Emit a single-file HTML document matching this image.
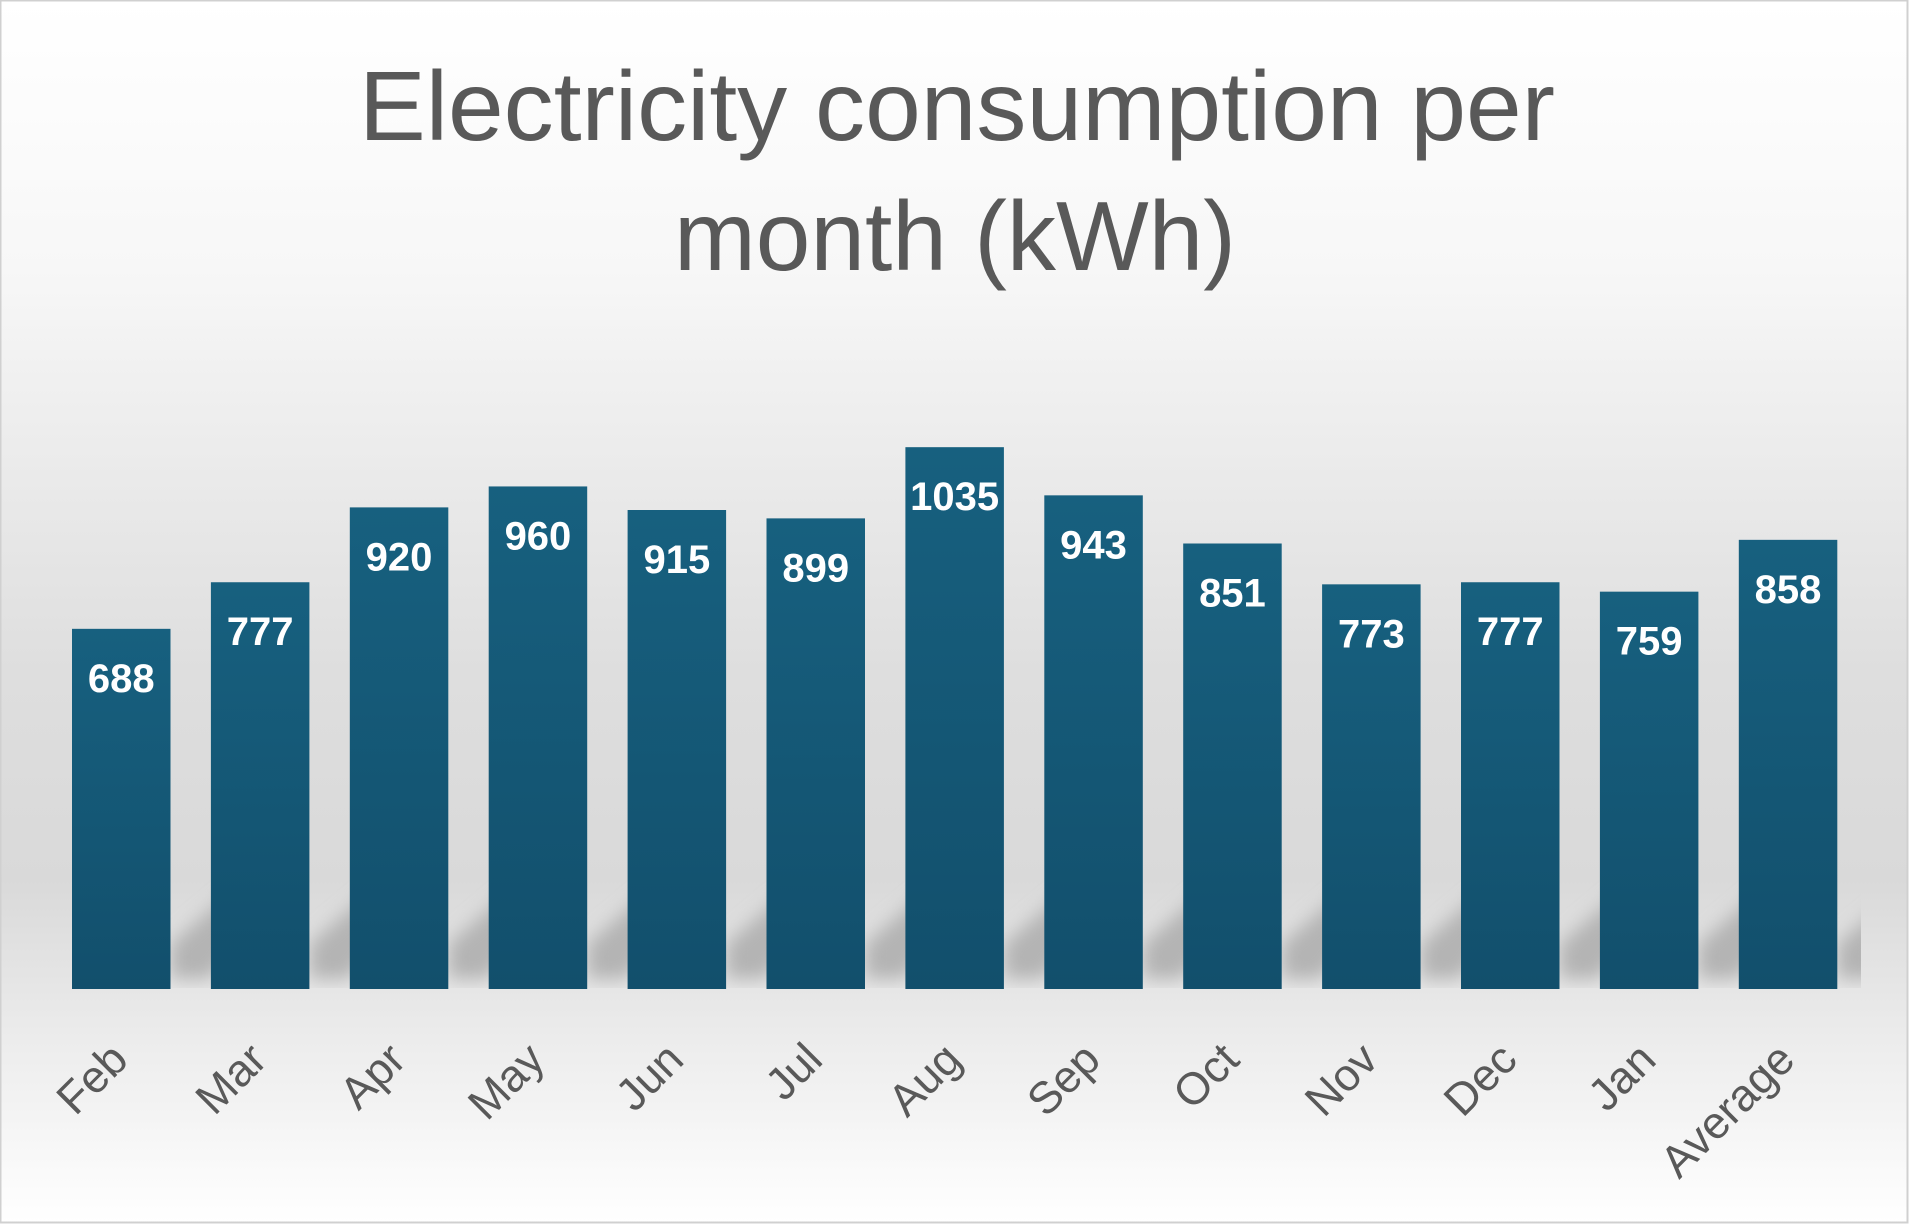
<!DOCTYPE html>
<html><head><meta charset="utf-8"><style>
html,body{margin:0;padding:0;background:#fff}
svg{display:block}
</style></head><body>
<svg id="chart" width="1910" height="1225" viewBox="0 0 1910 1225" xmlns="http://www.w3.org/2000/svg">
<defs>
<linearGradient id="bg" x1="0" y1="0" x2="0" y2="1">
<stop offset="0" stop-color="#ffffff"/>
<stop offset="0.22" stop-color="#f7f7f7"/>
<stop offset="0.55" stop-color="#dedede"/>
<stop offset="0.72" stop-color="#d9d9d9"/>
<stop offset="0.85" stop-color="#ececec"/>
<stop offset="1" stop-color="#ffffff"/>
</linearGradient>
<linearGradient id="barg" x1="0" y1="0" x2="0" y2="1">
<stop offset="0" stop-color="#17607f"/>
<stop offset="1" stop-color="#124f6c"/>
</linearGradient>
<filter id="blur"><feGaussianBlur stdDeviation="9"/></filter>
<clipPath id="plotclip"><rect x="10" y="300" width="1851" height="689"/></clipPath>
</defs>
<rect x="0.5" y="0.5" width="1907" height="1222" fill="url(#bg)" stroke="#d0d0d0" stroke-width="2"/>
<text x="957" y="140" text-anchor="middle" font-family="Liberation Sans, sans-serif" font-size="98" fill="#595959" textLength="1196" lengthAdjust="spacingAndGlyphs">Electricity consumption per</text>
<text x="955" y="270" text-anchor="middle" font-family="Liberation Sans, sans-serif" font-size="98" fill="#595959" textLength="562" lengthAdjust="spacingAndGlyphs">month (kWh)</text>
<g id="shadows" clip-path="url(#plotclip)"></g>
<g id="bars"></g>
<g id="labels"></g>
<g id="cats"></g>
</svg>
<script>
const categories = ["Feb","Mar","Apr","May","Jun","Jul","Aug","Sep","Oct","Nov","Dec","Jan","Average"];
const values = [688,777,920,960,915,899,1035,943,851,773,777,759,858];
const valueLabels = ["688","777","920","960","915","899","1035","943","851","773","777","759","858"];

const NS = "http://www.w3.org/2000/svg";
const baseY = 989, pxPerUnit = 0.5235;
const x0 = 72, step = 138.9, bw = 98.5;
function xPos(i){ return x0 + i*step; }
function yPos(v){ return baseY - v*pxPerUnit; }
const sh = document.getElementById('shadows'), bg = document.getElementById('bars'),
      lg = document.getElementById('labels'), cg = document.getElementById('cats');
categories.forEach((c,i)=>{
  const x = xPos(i), y = yPos(values[i]);
  const s = document.createElementNS(NS,'polygon');
  
  
  s.setAttribute('points',`${x+bw},${baseY-10} ${x+bw},${baseY-45} ${x+bw+65},${baseY-100} ${x+bw+90},${baseY-80} ${x+bw+40},${baseY-10}`);
  s.setAttribute('fill','#b4b4b4');
  s.setAttribute('filter','url(#blur)');
  sh.appendChild(s);
  const r = document.createElementNS(NS,'rect');
  
  
  r.setAttribute('x',x); r.setAttribute('y',y);
  r.setAttribute('width',bw); r.setAttribute('height',baseY-y);
  r.setAttribute('fill','url(#barg)');
  bg.appendChild(r);
  const t = document.createElementNS(NS,'text');
  
  
  t.setAttribute('x',x+bw/2); t.setAttribute('y',y+63);
  t.setAttribute('text-anchor','middle');
  t.setAttribute('font-family','Liberation Sans, sans-serif');
  t.setAttribute('font-weight','bold'); t.setAttribute('font-size','40');
  t.setAttribute('fill','#ffffff');
  t.textContent = valueLabels[i];
  lg.appendChild(t);
  const a = document.createElementNS(NS,'text');
  
  
  const ax = x+bw/2+9, ay = 1062;
  a.setAttribute('x',ax); a.setAttribute('y',ay);
  a.setAttribute('transform',`rotate(-45 ${ax} ${ay})`);
  a.setAttribute('text-anchor','end');
  a.setAttribute('font-family','Liberation Sans, sans-serif');
  a.setAttribute('font-size','45'); a.setAttribute('fill','#595959');
  a.textContent = c;
  cg.appendChild(a);
});
</script>
</body></html>
